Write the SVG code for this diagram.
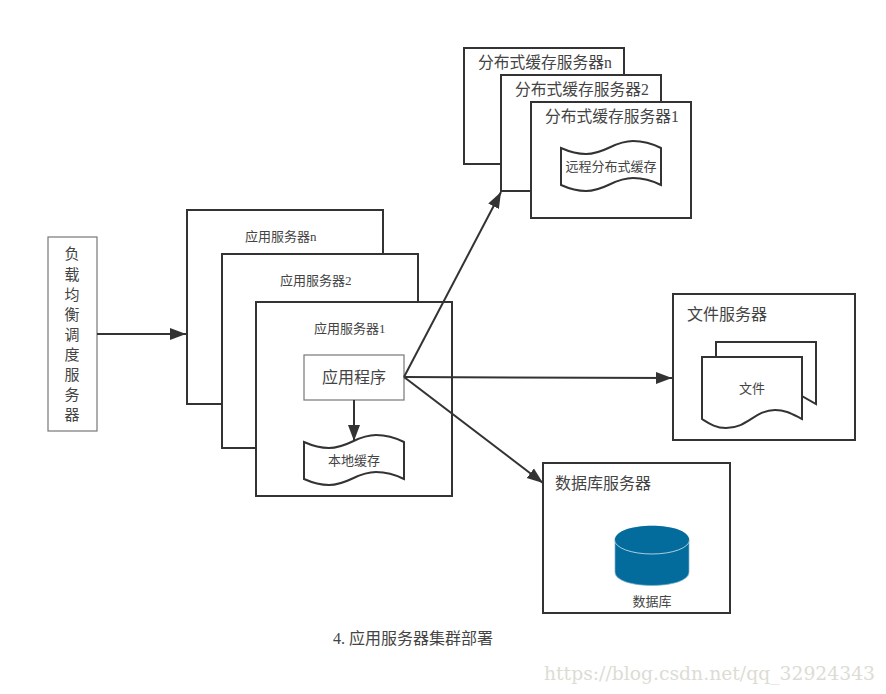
<svg xmlns="http://www.w3.org/2000/svg" width="886" height="694" viewBox="0 0 886 694">
<style>
text{font-family:"Liberation Serif","Noto Sans CJK SC",serif;fill:#444;font-weight:400}
.s16{font-size:16px}.s13{font-size:13px}.s15{font-size:15.750px}
.m{text-anchor:middle}
.box{fill:#fff;stroke:#333;stroke-width:2}
.thin{fill:#fff;stroke:#777;stroke-width:1.200}
.conn{fill:none;stroke:#333;stroke-width:2}
.doc{fill:#fff;stroke:#333;stroke-width:2}
</style>
<defs>
<marker id="arrow" markerUnits="userSpaceOnUse" markerWidth="18" markerHeight="14" refX="16" refY="7" orient="auto">
<path d="M0,1 L16,7 L0,13 Z" fill="#333"/>
</marker>
<path id="wave" d="M0,0 C9,4 16,6 25,6 C45,6 52,-7 72,-7 C84,-7 92,-4 100,0 L100,37 C92,33 84,30 72,30 C52,30 45,43 25,43 C16,43 9,41 0,37 Z"/>
</defs>
<rect width="886" height="694" fill="#fff"/>

<g id="lb">
<rect class="thin" x="48" y="237" width="49" height="194"/>
<g class="m" style="font-size:15px">
<text x="72" y="259">负</text><text x="72" y="280">载</text><text x="72" y="300">均</text><text x="72" y="320">衡</text><text x="72" y="340">调</text><text x="72" y="360">度</text><text x="72" y="380">服</text><text x="72" y="400">务</text><text x="72" y="420">器</text>
</g>
</g>

<g id="app-n"><rect class="box" x="187" y="210" width="196" height="194"/><text class="s13" x="245" y="241">应用服务器n</text></g>
<g id="app-2"><rect class="box" x="222" y="254" width="196" height="194"/><text class="s13" x="280" y="285">应用服务器2</text></g>
<g id="app-1"><rect class="box" x="256" y="302" width="196" height="194"/><text class="s13" x="314" y="333">应用服务器1</text></g>
<g id="app-prog"><rect class="thin" x="304" y="355" width="100" height="45"/><text class="s16 m" x="354" y="383">应用程序</text></g>
<g id="local-cache"><use href="#wave" x="304" y="442" class="doc"/><text class="s13 m" x="354" y="465">本地缓存</text></g>

<g id="cache-n"><rect class="box" x="464" y="48" width="160" height="116"/><text class="s15" x="478" y="68">分布式缓存服务器n</text></g>
<g id="cache-2"><rect class="box" x="501" y="75" width="160" height="116"/><text class="s15" x="515" y="95">分布式缓存服务器2</text></g>
<g id="cache-1"><rect class="box" x="531" y="102" width="160" height="116"/><text class="s15" x="545" y="122">分布式缓存服务器1</text></g>
<g id="remote-cache"><use href="#wave" x="561" y="148" class="doc"/><text class="s13 m" x="611" y="171">远程分布式缓存</text></g>

<g id="file-server"><rect class="box" x="673" y="294" width="182" height="146"/><text class="s16" x="687" y="320">文件服务器</text></g>
<g id="file">
<path class="doc" d="M716,342 H816 V404 L800,395 H716 Z"/>
<path class="doc" d="M702,357 H802 V419 C792,414 786,410 775,410 C755,410 748,428 726,428 C716,428 710,424 702,419 Z"/>
<text class="s13 m" x="752" y="393">文件</text>
</g>

<g id="db-server"><rect class="box" x="543" y="463" width="187" height="150"/><text class="s16" x="555" y="489">数据库服务器</text></g>
<g id="db">
<path d="M615,540 V572 C615,590 689,590 689,572 V540 Z" fill="#036c9c" stroke="#7fb5ce" stroke-width="0.7"/>
<ellipse cx="652" cy="540" rx="37.500" ry="14" fill="#036c9c" stroke="#d4e6ef" stroke-width="0.8"/>
<path d="M615,540 C615,521 689,521 689,540" fill="#036c9c"/>
<text class="s13 m" x="652" y="606">数据库</text>
</g>

<g id="connectors">
<path class="conn" marker-end="url(#arrow)" d="M97,334 H186"/>
<path class="conn" marker-end="url(#arrow)" d="M354,400 V441"/>
<path class="conn" marker-end="url(#arrow)" d="M404,377 L501,192"/>
<path class="conn" marker-end="url(#arrow)" d="M404,377 L672,378"/>
<path class="conn" marker-end="url(#arrow)" d="M404,377 L543,483"/>
</g>

<text class="s16" x="333" y="644">4. 应用服务器集群部署</text>
<text x="544" y="680" font-size="19" textLength="331" lengthAdjust="spacingAndGlyphs" style="font-family:'DejaVu Serif','Liberation Serif',serif;fill:#dcdcd5">https://blog.csdn.net/qq_32924343</text>
</svg>
